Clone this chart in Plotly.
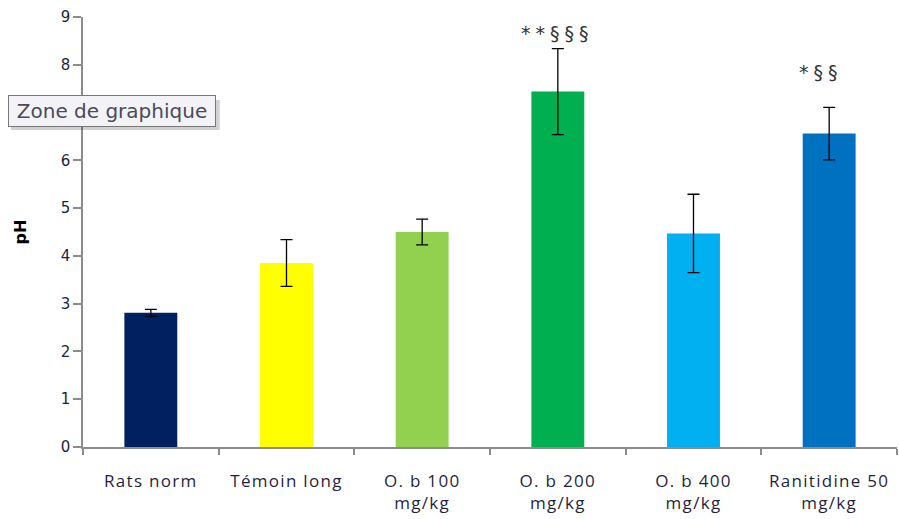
import plotly.graph_objects as go

# Gastric pH per treatment group (mean ± SEM)
groups = ["Rats norm", "Témoin long", "O. b 100<br>mg/kg", "O. b 200<br>mg/kg",
          "O. b 400<br>mg/kg", "Ranitidine 50<br>mg/kg"]
ph_mean = [2.81, 3.85, 4.50, 7.44, 4.47, 6.56]
ph_err = [0.07, 0.49, 0.27, 0.90, 0.82, 0.55]
bar_colors = ["#002060", "#FFFF00", "#92D050", "#00B050", "#00B0F0", "#0070C0"]

# Significance marks and where they sit
sig_groups = ["O. b 200<br>mg/kg", "Ranitidine 50<br>mg/kg"]
sig_text = ["**§§§", "*§§"]
sig_y = [8.67, 7.84]
sig_dx = [0, -8]

y_ticks = [0, 1, 2, 3, 4, 5, 6, 7, 8, 9]

fig = go.Figure()
fig.add_trace(go.Bar(
    x=groups, y=ph_mean,
    marker=dict(color=bar_colors, line=dict(width=0)),
    width=0.39,
    error_y=dict(type="data", array=ph_err, visible=True,
                 color="black", thickness=1.3, width=6),
))

for g, t, yy, dx in zip(sig_groups, sig_text, sig_y, sig_dx):
    fig.add_annotation(x=g, y=yy, showarrow=False, xshift=dx,
                       text=f'<span style="letter-spacing:5px">{t}</span>',
                       font=dict(family="DejaVu Sans", size=19, color="#333333"))

# Floating chart-area tooltip label with a soft drop shadow
fig.add_shape(type="rect", xref="paper", yref="paper",
              x0=-0.0885, x1=0.168, y0=0.737, y1=0.807,
              fillcolor="rgba(0,0,0,0.18)", line=dict(width=0), layer="above")
fig.add_annotation(xref="paper", yref="paper", x=-0.092, y=0.781,
                   xanchor="left", yanchor="middle",
                   text="Zone de graphique", showarrow=False,
                   width=202, height=26, align="center",
                   font=dict(family="DejaVu Sans", size=20, color="#4A4A5A"),
                   bgcolor="#F3F3F7", bordercolor="#777777", borderwidth=1, borderpad=2)

# Category labels drawn with a little extra letter spacing
tick_text = [f'<span style="letter-spacing:1.3px">{g}</span>' for g in groups]

fig.update_layout(
    width=899, height=519,
    margin=dict(l=83, r=2, t=17, b=72),
    paper_bgcolor="white", plot_bgcolor="white",
    showlegend=False,
    font=dict(family="DejaVu Sans", color="#222222"),
)
fig.update_xaxes(
    showline=True, linecolor="#8C8C8C", linewidth=1.5,
    ticks="outside", tickson="boundaries", ticklen=6, tickcolor="#8C8C8C", tickwidth=1.5,
    tickmode="array", tickvals=groups, ticktext=tick_text,
    tickfont=dict(family="Open Sans", size=17, color="#1F1F3F"),
    ticklabelstandoff=18,
    showgrid=False,
)
fig.update_yaxes(
    range=[0, 9], tickvals=y_ticks, showline=True, linecolor="#8C8C8C", linewidth=1.5,
    ticks="outside", ticklen=8, tickcolor="#8C8C8C", tickwidth=1.5,
    tickfont=dict(family="DejaVu Sans", size=15, color="#1F1F3F"),
    showgrid=False, zeroline=False,
    title=dict(text="<b>pH</b>", font=dict(family="DejaVu Sans", size=16, color="black"),
               standoff=30),
)

fig.write_html("out.html")
